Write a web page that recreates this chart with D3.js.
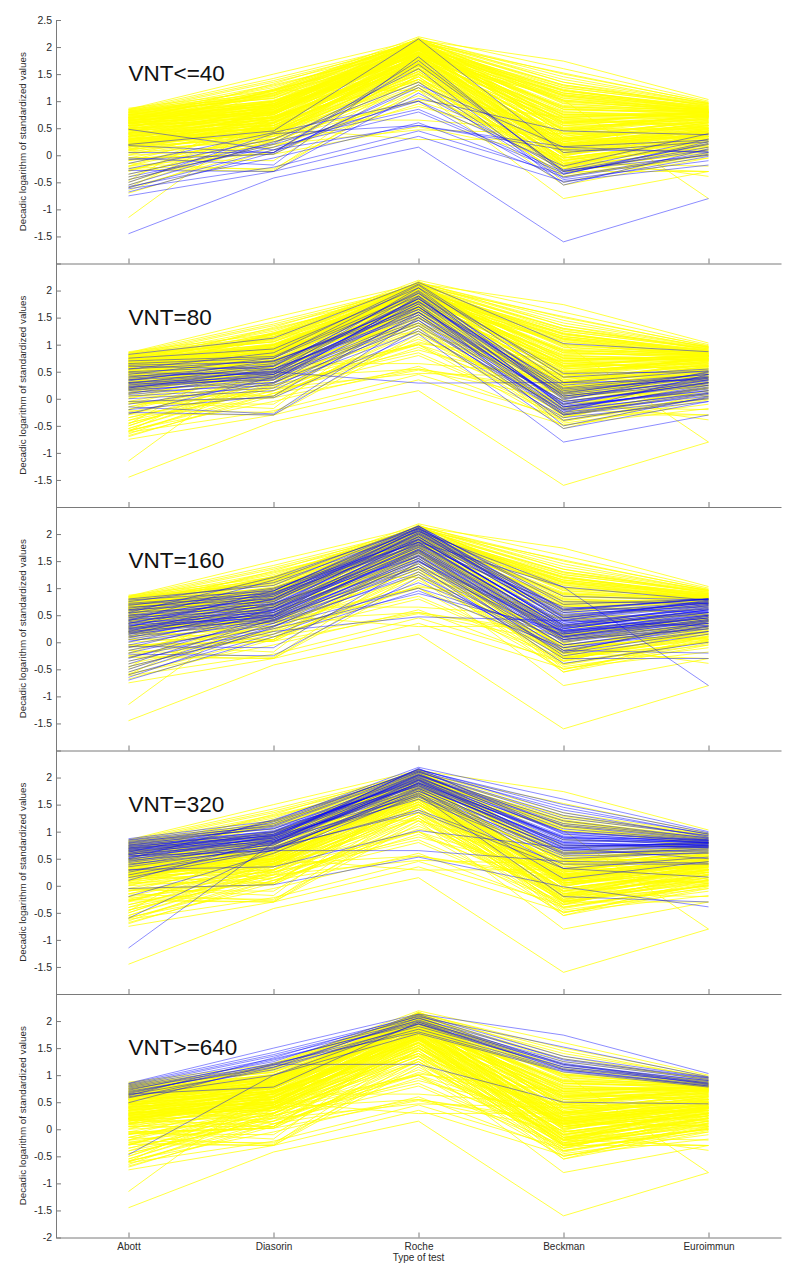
<!DOCTYPE html>
<html>
<head>
<meta charset="utf-8">
<script src="https://cdn.jsdelivr.net/npm/d3@7"></script>
<style>
html,body{margin:0;padding:0;background:#fff;}
svg{display:block;font-family:"Liberation Sans",Arial,Helvetica,sans-serif;}
</style>
</head>
<body>
<svg id="chart" width="794" height="1274"></svg>
<script>
// ---------- DATA ----------
const categories = ["Abott", "Diasorin", "Roche", "Beckman", "Euroimmun"];
const panelTitles = ["VNT<=40", "VNT=80", "VNT=160", "VNT=320", "VNT>=640"];
const yLabel = "Decadic logarithm of standardized values";
const xLabel = "Type of test";
const yTicksTop = [-1.5, -1, -0.5, 0, 0.5, 1, 1.5, 2, 2.5];
const yTicksMid = [-1.5, -1, -0.5, 0, 0.5, 1, 1.5, 2];
const yTicksBottom = [-2, -1.5, -1, -0.5, 0, 0.5, 1, 1.5, 2];

// each row: [Abott, Diasorin, Roche, Beckman, Euroimmun]
const vnt40 = [
  [0.48, 0.10, 1.05, 0.45, 0.38],
  [0.20, 0.45, 2.15, 0.05, 0.25],
  [0.18, 0.05, 1.75, -0.30, 0.10],
  [-0.05, -0.18, 1.82, -0.35, 0.22],
  [-0.08, 0.02, 1.30, 0.15, 0.05],
  [-0.25, 0.30, 1.35, -0.42, 0.02],
  [-0.28, -0.30, 1.15, -0.27, 0.30],
  [-0.35, 0.22, 1.60, -0.55, 0.12],
  [-0.45, 0.20, 1.00, -0.50, -0.02],
  [-0.50, 0.40, 0.55, 0.10, 0.07],
  [-0.55, 0.25, 0.85, -0.30, 0.20],
  [-0.60, 0.10, 0.55, 0.16, 0.28],
  [-0.62, -0.22, 0.45, -0.35, 0.25],
  [-0.68, 0.05, 1.25, -0.45, -0.10],
  [-0.75, -0.30, 0.35, -0.48, -0.18],
  [-1.45, -0.42, 0.15, -1.60, -0.80],
  [-0.15, 0.42, 1.00, -0.20, 0.40],
  [0.05, 0.05, 1.68, -0.28, 0.00],
  [-0.40, 0.15, 0.80, -0.33, 0.15],
  [-0.58, -0.05, 0.60, -0.40, 0.05]
];
const vnt80 = [
  [0.82, 1.12, 2.15, 1.02, 0.87],
  [0.75, 0.92, 2.05, 0.47, 0.50],
  [0.70, 0.78, 1.95, 0.20, 0.45],
  [0.65, 0.75, 2.10, 0.30, 0.52],
  [0.60, 0.55, 1.85, 0.05, 0.35],
  [0.55, 0.70, 1.70, -0.10, 0.30],
  [0.50, 0.60, 2.00, 0.15, 0.40],
  [0.48, 0.45, 1.60, -0.05, 0.25],
  [0.45, 0.75, 1.90, 0.10, 0.48],
  [0.42, 0.50, 1.75, -0.15, 0.20],
  [0.40, 0.65, 1.80, 0.25, 0.45],
  [0.38, 0.55, 1.55, -0.20, 0.10],
  [0.35, 0.48, 2.05, 0.00, 0.38],
  [0.33, 0.70, 1.65, -0.08, 0.30],
  [0.30, 0.50, 0.29, 0.30, 0.35],
  [0.30, 0.40, 1.45, -0.25, 0.05],
  [0.28, 0.60, 1.85, 0.12, 0.42],
  [0.25, 0.52, 1.70, -0.12, 0.15],
  [0.23, 0.45, 1.95, 0.05, 0.33],
  [0.22, 0.38, 1.40, -0.30, 0.00],
  [0.20, 0.55, 1.60, -0.18, 0.22],
  [0.20, 0.48, 1.75, -0.50, 0.04],
  [0.18, 0.42, 1.50, -0.05, 0.28],
  [0.17, 0.30, 1.35, -0.22, 0.12],
  [0.15, 0.35, 1.80, -0.10, 0.35],
  [0.12, 0.25, 1.25, -0.35, -0.05],
  [0.10, 0.45, 1.65, 0.08, 0.40],
  [0.08, 0.30, 1.90, -0.15, 0.18],
  [0.05, 0.20, 1.55, -0.28, 0.10],
  [0.00, 0.15, 1.45, -0.40, 0.02],
  [-0.05, 0.02, 1.20, -0.80, -0.30],
  [-0.10, 0.28, 1.70, -0.20, 0.25],
  [-0.20, 0.05, 1.60, -0.25, 0.45],
  [-0.25, -0.30, 1.30, -0.55, -0.05],
  [-0.28, 0.40, 1.85, 0.02, 0.30],
  [0.55, 0.85, 2.12, 0.40, 0.55],
  [0.35, 0.62, 1.98, -0.02, 0.50],
  [0.62, 0.68, 1.78, 0.18, 0.38],
  [0.27, 0.35, 1.88, -0.15, 0.15],
  [-0.15, -0.28, 1.50, -0.30, 0.08]
];
const vnt160 = [
  [0.80, 1.05, 2.15, 0.70, 0.80],
  [0.78, 0.95, 2.10, 0.55, 0.75],
  [0.75, 1.10, 2.05, 1.02, 0.78],
  [0.72, 0.90, 1.95, 0.45, 0.70],
  [0.70, 0.85, 2.12, 0.60, 0.81],
  [0.68, 1.00, 1.90, 0.35, 0.65],
  [0.65, 0.80, 2.00, 0.50, 0.72],
  [0.63, 0.92, 1.85, 0.25, 0.60],
  [0.60, 0.75, 2.08, 0.40, 0.78],
  [0.58, 0.88, 1.80, 0.65, 0.55],
  [0.55, 0.70, 1.95, 0.30, 0.68],
  [0.53, 0.95, 2.15, 0.45, 0.76],
  [0.50, 0.65, 1.75, 0.20, 0.50],
  [0.50, 0.82, 2.02, 0.55, 0.72],
  [0.48, 0.78, 1.88, 0.38, 0.62],
  [0.46, 0.60, 1.70, 0.15, 0.45],
  [0.45, 0.90, 2.10, 0.60, 0.80],
  [0.43, 0.72, 1.92, 0.32, 0.58],
  [0.42, 0.55, 1.65, 0.10, 0.40],
  [0.40, 0.85, 2.05, 0.48, 0.74],
  [0.38, 0.68, 1.82, 0.28, 0.55],
  [0.36, 0.50, 1.60, 0.05, 0.35],
  [0.35, 0.80, 1.98, 0.42, 0.70],
  [0.33, 0.62, 1.78, 0.22, 0.50],
  [0.32, 0.45, 1.55, -0.15, 0.30],
  [0.30, 0.75, 2.00, 0.52, 0.66],
  [0.30, 0.58, 1.72, 0.18, 0.45],
  [0.28, 0.95, 2.12, 0.62, 0.79],
  [0.27, 0.52, 1.68, 0.12, 0.42],
  [0.25, 0.70, 1.90, 0.35, 0.62],
  [0.25, 0.48, 1.50, -0.05, 0.28],
  [0.23, 0.65, 1.85, 0.26, 0.55],
  [0.22, 0.55, 1.62, 0.08, 0.38],
  [0.20, 0.80, 2.08, 0.46, 0.73],
  [0.20, 0.42, 1.45, -0.20, 0.20],
  [0.18, 0.60, 1.76, 0.16, 0.48],
  [0.17, 0.50, 1.95, 0.30, 0.60],
  [0.15, 0.72, 1.58, 0.02, 0.35],
  [0.15, 0.45, 1.40, -0.39, 0.00],
  [0.12, 0.58, 1.84, 0.22, 0.52],
  [0.10, 0.40, 1.35, -0.10, 0.25],
  [0.08, 0.65, 2.03, 0.40, 0.68],
  [0.05, 0.50, 1.66, 0.10, 0.42],
  [0.02, 0.38, 1.52, -0.25, 0.15],
  [0.00, 0.60, 1.90, 0.32, 0.64],
  [-0.05, 0.45, 1.70, 0.05, 0.40],
  [-0.08, -0.10, 1.48, 0.20, 0.45],
  [-0.10, 0.55, 1.80, 0.28, 0.57],
  [-0.15, 0.35, 1.25, -0.15, -0.20],
  [-0.20, 0.40, 1.60, 0.00, 0.32],
  [-0.22, -0.25, 1.20, -0.18, 0.38],
  [-0.28, 0.30, 1.00, 0.15, 0.50],
  [-0.30, 0.48, 1.72, 0.18, 0.55],
  [-0.35, 0.25, 0.90, 0.22, 0.35],
  [-0.40, 0.42, 1.55, -0.05, 0.30],
  [-0.45, 0.20, 0.47, 0.40, 0.30],
  [-0.50, 0.35, 1.40, 0.10, 0.48],
  [-0.55, 0.30, 1.30, -0.30, -0.30],
  [-0.60, 0.15, 1.10, 0.05, 0.25],
  [-0.65, 0.28, 1.50, 0.25, 0.60],
  [-0.70, 0.10, 0.95, -0.10, 0.20],
  [0.60, 0.98, 1.85, 1.02, -0.80],
  [0.40, 1.15, 2.14, 0.75, 0.72],
  [0.55, 1.20, 2.10, 0.85, 0.78],
  [0.35, 0.88, 2.06, 0.58, 0.80]
];
const vnt320 = [
  [0.87, 1.20, 2.19, 1.60, 1.00],
  [0.85, 1.15, 2.15, 1.45, 0.95],
  [0.84, 1.10, 2.10, 1.30, 0.92],
  [0.82, 1.05, 2.05, 1.20, 0.88],
  [0.80, 1.12, 2.12, 1.10, 0.85],
  [0.78, 1.00, 1.98, 1.00, 0.82],
  [0.76, 0.95, 2.08, 0.95, 0.80],
  [0.75, 1.08, 1.92, 0.90, 0.78],
  [0.73, 0.92, 2.02, 0.85, 0.76],
  [0.72, 0.98, 1.88, 0.80, 0.74],
  [0.70, 0.90, 2.16, 1.35, 0.90],
  [0.70, 1.02, 1.95, 0.75, 0.72],
  [0.68, 0.88, 1.85, 0.70, 0.80],
  [0.67, 0.96, 2.00, 0.88, 0.86],
  [0.66, 0.85, 1.80, 0.65, 0.70],
  [0.65, 0.93, 2.06, 1.05, 0.84],
  [0.63, 0.82, 1.90, 0.78, 0.75],
  [0.62, 1.18, 2.14, 1.50, 0.98],
  [0.60, 0.88, 1.75, 0.68, 0.73],
  [0.58, 0.80, 1.96, 0.92, 0.81],
  [0.57, 0.95, 1.86, 0.72, 0.77],
  [0.55, 0.78, 1.70, 0.62, 0.66],
  [0.53, 0.90, 2.03, 1.12, 0.87],
  [0.52, 0.85, 1.82, 0.80, 0.70],
  [0.50, 0.75, 1.94, 0.74, 0.78],
  [0.48, 0.92, 1.66, 0.60, 0.64],
  [0.47, 0.70, 1.78, 0.32, 0.53],
  [0.45, 0.82, 2.00, 0.98, 0.83],
  [0.43, 0.76, 1.88, 0.70, 0.75],
  [0.40, 0.68, 1.72, 0.13, 0.45],
  [0.38, 0.80, 1.95, 0.85, 0.80],
  [0.35, 0.72, 1.64, 0.55, 0.60],
  [0.30, 0.35, 1.02, 0.70, 0.50],
  [0.28, 0.65, 1.80, 0.66, 0.72],
  [0.25, 0.78, 1.90, 0.90, 0.79],
  [0.20, 0.70, 1.36, 0.32, 0.16],
  [0.15, 0.66, 1.75, 0.58, 0.68],
  [0.10, 0.85, 2.05, 1.00, 0.84],
  [-0.05, 0.02, 0.53, -0.02, -0.39],
  [-0.20, 0.60, 1.68, -0.20, -0.30],
  [-0.60, 0.68, 1.40, 0.40, 0.40],
  [-1.15, 0.80, 1.90, 0.88, 0.74],
  [0.55, 0.65, 0.65, 0.45, 0.42],
  [0.74, 1.00, 2.10, 1.25, 0.93],
  [0.69, 0.93, 2.04, 1.15, 0.89],
  [0.60, 0.99, 1.97, 0.82, 0.83],
  [0.64, 0.87, 2.17, 0.96, 0.79],
  [0.79, 1.06, 1.84, 0.76, 0.71],
  [0.58, 0.83, 1.60, 0.50, 0.62],
  [0.50, 1.22, 2.12, 1.40, 0.96]
];
const vnt640 = [
  [0.85, 1.50, 2.13, 1.74, 1.03],
  [0.84, 1.42, 2.08, 1.52, 0.97],
  [0.82, 1.38, 2.05, 1.30, 0.95],
  [0.80, 1.35, 2.00, 1.25, 0.92],
  [0.78, 1.30, 1.95, 1.20, 0.90],
  [0.76, 1.25, 2.10, 1.28, 0.94],
  [0.74, 1.20, 1.90, 1.15, 0.88],
  [0.72, 1.28, 1.98, 1.22, 0.85],
  [0.70, 1.15, 1.85, 1.10, 0.82],
  [0.68, 1.18, 2.02, 1.18, 0.90],
  [0.66, 1.22, 1.80, 1.08, 0.80],
  [0.64, 1.10, 1.94, 1.12, 0.86],
  [0.60, 1.00, 1.77, 1.06, 0.78],
  [0.58, 1.14, 2.06, 1.20, 0.83],
  [0.65, 0.78, 1.98, 1.10, 0.80],
  [0.49, 1.20, 1.20, 0.50, 0.47],
  [-0.47, 1.00, 1.95, 1.15, 0.84],
  [0.62, 1.32, 2.12, 1.35, 0.96]
];
const groups = [vnt40, vnt80, vnt160, vnt320, vnt640];

// ---------- LAYOUT ----------
const svg = d3.select("#chart");
const left = 56, right = 781;
const firstTop = 20, panelH = 243.5;
const yMin = -2, yMax = 2.5;
const axisColor = "#7a7a7a", textColor = "#2a2a2a";

const x = d3.scalePoint().domain(categories).range([left, right]).padding(0.5);

groups.forEach((grp, gi) => {
  const top = firstTop + gi * panelH;
  const bottom = top + panelH;
  const y = d3.scaleLinear().domain([yMin, yMax]).range([bottom, top]);
  const line = d3.line().x((d, i) => x(categories[i])).y(d => y(d));
  const g = svg.append("g");

  const others = groups.filter((_, k) => k !== gi).flat();
  g.append("g").selectAll("path").data(others).join("path")
    .attr("d", line)
    .attr("fill", "none")
    .attr("stroke", "#ffff00")
    .attr("stroke-width", 0.75);

  g.append("g").selectAll("path").data(grp).join("path")
    .attr("d", line)
    .attr("fill", "none")
    .attr("stroke", "#0000ff")
    .attr("stroke-opacity", 0.5)
    .attr("stroke-width", 0.9);

  // y axis
  const ticks = gi === 0 ? yTicksTop : (gi === groups.length - 1 ? yTicksBottom : yTicksMid);
  const ya = g.append("g").attr("transform", `translate(${left},0)`)
    .call(d3.axisLeft(y).tickValues(ticks.concat(gi === 0 ? [] : [2.5])).tickSize(-5).tickSizeOuter(0).tickPadding(4)
      .tickFormat(v => ticks.includes(v) ? d3.format("")(v).replace("−", "-") : ""));
  ya.select(".domain").attr("stroke", axisColor);
  ya.selectAll(".tick line").attr("stroke", axisColor);
  ya.selectAll(".tick text").attr("fill", textColor).attr("font-size", 10.5).attr("font-family", "Liberation Sans, Arial, sans-serif");

  // x axis
  const xa = g.append("g").attr("transform", `translate(0,${bottom})`)
    .call(d3.axisBottom(x).tickSize(-5).tickSizeOuter(0).tickPadding(5)
      .tickFormat(gi === groups.length - 1 ? (d => d) : (() => "")));
  xa.select(".domain").attr("stroke", axisColor);
  xa.selectAll(".tick line").attr("stroke", axisColor);
  xa.selectAll(".tick text").attr("fill", textColor).attr("font-size", 10).attr("font-family", "Liberation Sans, Arial, sans-serif");

  // y label
  g.append("text")
    .attr("transform", `translate(26,${(top + bottom) / 2}) rotate(-90)`)
    .attr("text-anchor", "middle")
    .attr("font-size", 9.8)
    .attr("fill", textColor)
    .text(yLabel);

  // panel title
  g.append("text")
    .attr("x", x(categories[0]))
    .attr("y", top + 61)
    .attr("font-size", 22.5)
    .attr("fill", "#111")
    .text(panelTitles[gi]);
});

// x label
svg.append("text")
  .attr("x", x("Roche"))
  .attr("y", firstTop + groups.length * panelH + 23)
  .attr("text-anchor", "middle")
  .attr("font-size", 10)
  .attr("fill", textColor)
  .text(xLabel);
</script>
</body>
</html>
